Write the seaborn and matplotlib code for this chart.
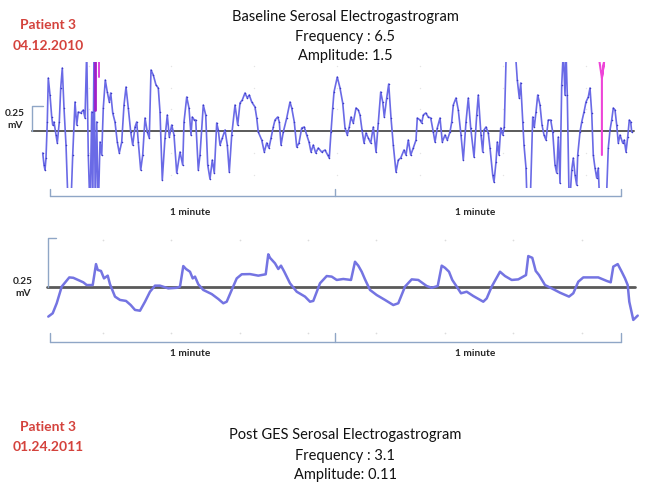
import matplotlib
matplotlib.use("Agg")
import matplotlib.pyplot as plt
import seaborn as sns
import pandas as pd

# ---------------- data (time in s, potential in mV) ----------------
top_t = [0.57, 0.84, 1.05, 1.26, 1.53, 1.74, 2.10, 2.46, 2.67, 2.94, 3.36, 3.63, 4.05, 4.35, 4.68,
         5.04, 5.46, 5.94, 6.45, 6.87, 7.35, 7.71, 8.04, 8.55, 9.09, 9.45, 9.81, 10.14, 10.5, 10.86,
         11.07, 11.34, 11.61, 11.91, 12.24, 12.6, 12.96, 13.29, 13.71, 14.13, 14.55, 14.85, 15.27,
         15.75, 16.23, 16.65, 17.16, 17.64, 18.06, 18.54, 19.05, 19.47, 19.95, 20.31, 20.64, 21.15,
         21.57, 22.05, 22.53, 22.95, 23.31, 23.79, 24.36, 24.84, 25.2, 25.68, 26.25, 26.73, 27.15,
         27.66, 28.14, 28.71, 29.4, 29.97, 30.24, 30.81, 31.29, 31.71, 31.98, 32.4, 32.7, 33.24,
         33.6, 34.29, 34.8, 35.22, 35.7, 36.18, 36.6, 37.11, 37.44, 37.8, 38.28, 38.85, 39.33,
         39.75, 40.26, 40.95, 41.52, 42.0, 42.48, 43.05, 43.53, 43.95, 44.46, 45.15, 45.51, 45.84,
         46.56, 47.1, 47.61, 48.09, 48.51, 48.99, 49.35, 49.92, 50.25, 50.61, 51.09, 51.81, 52.5,
         52.86, 53.4, 53.91, 54.39, 54.96, 55.5, 56.01, 56.49, 56.91, 57.39, 57.9, 58.44, 59.16,
         59.85, 60.42, 60.75, 61.11, 61.47, 61.74, 62.43, 63.0, 63.57, 64.05, 64.53, 64.95, 65.31,
         65.79, 66.36, 66.84, 67.2, 67.62, 68.04, 68.46, 68.94, 69.45, 69.99, 70.56, 71.04, 71.55,
         71.97, 72.3, 72.81, 73.23, 73.71, 74.19, 74.76, 75.24, 75.75, 76.44, 76.86, 77.34, 77.85,
         78.39, 78.96, 79.23, 79.8, 80.16, 80.49, 81.0, 81.54, 82.05, 82.59, 82.95, 83.43, 84.0,
         84.48, 85.05, 85.53, 86.1, 86.46, 86.79, 87.36, 87.84, 88.41, 88.89, 89.46, 89.94, 90.45,
         91.14, 91.71, 92.04, 92.61, 92.97, 93.24, 93.66, 94.14, 94.5, 95.07, 95.34, 95.76, 96.03,
         96.39, 96.75, 97.17, 97.5, 98.0, 99.6, 100.23, 100.65, 100.95, 101.37, 101.64, 102.06,
         102.33, 102.9, 103.47, 103.8, 104.16, 104.52, 105.0, 105.42, 105.84, 106.26, 106.74,
         107.25, 107.67, 108.15, 108.51, 108.84, 109.2, 109.56, 109.89, 110.25, 110.46, 110.73,
         111.15, 111.66, 111.99, 112.35, 112.71, 112.92, 113.4, 113.76, 114.24, 114.66, 115.14,
         115.5, 115.86, 116.19, 116.55, 116.91, 117.24, 117.6, 118.86, 119.34, 119.7, 120.06,
         120.39, 120.75, 121.11, 121.44, 121.8, 122.37, 122.7, 123.06, 123.42, 123.75, 124.05, 124.26]
top_mv = [-0.22, -0.34, -0.39, -0.27, 0.09, 0.53, 0.36, 0.14, 0.06, 0.09, -0.04, -0.12, 0.09, 0.43, 0.63,
          0.23, -0.14, -0.8, -0.8, -0.24, 0.29, 0.06, 0.19, 0.18, 0.21, 0.13, 0.8, -0.24, -0.8, 0.19,
          -0.8, 0.8, -0.8, 0.09, -0.8, -0.11, -0.24, 0.23, 0.51, 0.39, 0.29, 0.38, 0.18,
          0.09, -0.11, -0.22, -0.11, 0.26, 0.44, 0.23, -0.01, -0.14, 0.04, 0.09, -0.11, -0.39,
          -0.24, 0.13, -0.01, -0.07, 0.61, 0.56, 0.46, 0.43, 0.19, -0.49, -0.07, 0.16, -0.06,
          0.06, -0.04, -0.42, -0.21, -0.34, 0.09, 0.34, 0.23, -0.04, 0.14, 0.11, 0.11, -0.39,
          -0.24, 0.26, 0.16, -0.34, -0.48, -0.29, -0.42, 0.08, 0.01, -0.14, -0.07, 0.01, -0.14,
          -0.41, -0.04, 0.26, 0.06, 0.28, 0.31, 0.38, 0.33, 0.36, 0.29, 0.24, 0.13, -0.01,
          -0.09, -0.21, -0.12, -0.17, -0.07, 0.04, 0.11, 0.14, 0.09, -0.14, -0.01, 0.13, 0.29,
          0.23, 0.09, -0.16, -0.12, 0.03, 0.04, -0.04, -0.11, -0.21, -0.14, -0.22, -0.17, -0.21,
          -0.19, -0.24, -0.27, -0.01, 0.23, 0.39, 0.54, 0.43, 0.28, 0.03, -0.04, 0.04, 0.14,
          0.08, 0.23, 0.21, 0.16, 0.01, -0.12, -0.02, -0.07, -0.12, 0.04, -0.21, 0.08, 0.39,
          0.29, 0.14, 0.33, 0.47, 0.13, -0.14, -0.41, -0.29, -0.27, -0.19, -0.24, -0.09, -0.24,
          -0.17, -0.09, 0.13, 0.11, 0.08, 0.16, 0.18, 0.14, 0.13, -0.01, -0.11, 0.03, 0.13,
          -0.11, -0.04, -0.09, -0.01, 0.09, 0.26, 0.33, 0.21, -0.04, -0.29, 0.09, 0.33, 0.03,
          -0.26, 0.16, 0.36, -0.04, -0.21, 0.01, 0.04, -0.02, -0.17, -0.44, -0.51, -0.31, -0.11,
          -0.24, 0.03, -0.04, 0.04, 0.95, 0.95, 0.51, 0.33, 0.48, 0.09, -0.14, -0.37,
          -0.8, -0.8, 0.14, 0.04, 0.19, 0.36, 0.26, 0.06, -0.04, -0.09, 0.11,
          0.11, -0.01, -0.34, -0.42, -0.06, -0.52, 0.46, 0.8, 0.36, 0.8, 0.36,
          -0.8, -0.39, -0.27, -0.44, -0.54, -0.24, -0.01, 0.09, 0.19, 0.29, 0.34,
          0.43, 0.18, -0.24, -0.37, -0.47, -0.37, -0.8, -0.8, -0.17, 0.01, 0.11,
          0.23, 0.21, 0.06, -0.12, -0.04, -0.12, -0.09, -0.21, -0.06, 0.11, 0.09, -0.01]

# stimulus / artefact marks (magenta)
mark1_t = [11.45, 11.45]
mark1_mv = [0.8, 0.21]
mark2_t = [12.3, 12.3]
mark2_mv = [0.8, 0.54]
mark3_t = [117.5, 118.0, 118.45, 118.0, 118.0]
mark3_mv = [0.69, 0.53, 0.69, 0.53, -0.24]

bot_t = [1.74, 2.67, 3.51, 4.56, 6.15, 6.99, 9.09, 9.81, 11.07, 11.76, 12.12, 12.81, 13.44, 14.22,
         14.7, 15.75, 16.8, 18.06, 19.05, 19.95, 21.0, 22.05, 23.1, 24.15, 25.2, 26.94, 28.71, 29.4,
         30.09, 30.66, 31.5, 32.07, 32.55, 33.24, 34.29, 36.06, 37.44, 38.49, 39.21, 40.26, 41.31,
         42.36, 44.1, 45.84, 47.4, 47.94, 48.3, 49.35, 50.04, 50.61, 51.3, 52.5, 53.91, 55.65,
         56.7, 57.39, 58.8, 60.21, 61.26, 62.31, 63.69, 65.31, 66.15, 66.84, 67.56, 68.25, 69.3,
         70.71, 72.45, 74.19, 75.24, 76.65, 78.06, 79.44, 81.21, 82.26, 83.52, 84.36, 85.05,
         85.89, 86.58, 87.51, 88.41, 89.61, 90.99, 93.09, 93.81, 94.86, 96.6, 97.65, 99.06,
         100.44, 102.06, 102.54, 103.38, 104.1, 104.79, 106.05, 107.46, 109.2, 111.09, 111.99,
         113.04, 114.09, 117.24, 119.01, 119.85, 120.39, 121.32, 122.16, 122.85, 123.42, 123.75,
         124.59, 125.52]
bot_mv = [-0.151, -0.134, -0.083, 0.002, 0.049, 0.047, 0.024, 0.010, 0.010, 0.117, 0.087, 0.082,
          0.044, 0.058, 0.014, -0.049, -0.066, -0.071, -0.092, -0.117, -0.121, -0.075, -0.024,
          0.007, 0.007, -0.007, -0.004, 0.002, 0.107, 0.092, 0.078, 0.044, 0.053, 0.014, -0.015,
          -0.036, -0.061, -0.083, -0.075, -0.015, 0.044, 0.065, 0.066, 0.058, 0.065, 0.167, 0.149,
          0.121, 0.092, 0.109, 0.078, 0.019, -0.024, -0.049, -0.075, -0.071, 0.019, 0.056, 0.053,
          0.036, 0.041, 0.036, 0.129, 0.109, 0.078, 0.039, -0.015, -0.041, -0.066, -0.092, -0.083,
          0.002, 0.039, 0.036, 0.005, -0.004, 0.005, 0.109, 0.098, 0.078, 0.036, 0.002, -0.032,
          -0.024, -0.046, -0.075, -0.058, 0.002, 0.078, 0.056, 0.036, 0.039, 0.061, 0.158, 0.149,
          0.082, 0.061, 0.010, -0.007, -0.029, -0.049, -0.032, 0.027, 0.049, 0.049, 0.031, 0.024,
          0.104, 0.117, 0.078, 0.044, 0.010, -0.075, -0.168, -0.146]

minute_edges = [2.0, 62.0, 122.0]          # two 1-minute brackets
minute_labels = ["1 minute", "1 minute"]
scale_mv = 0.25                            # calibration bracket
top_grid_t = [10.3, 27.5, 44.9, 62.4, 79.8, 97.2, 114.7]
top_grid_mv = [0.65, 0.43, 0.22, -0.22, -0.44]
bot_grid_t = [13.2, 27.5, 42.0, 56.3, 70.6, 85.0, 99.3, 113.8]
bot_grid_mv = [0.24, -0.235]

# ---------------- figure ----------------
sns.set_style("white")
plt.rcParams["font.family"] = ["Lato", "DejaVu Sans"]
W, H = 649, 492
fig = plt.figure(figsize=(W / 100, H / 100), dpi=100)

XL = (-8.4, 127.89)


def px_ax(y0, y1):
    return fig.add_axes([0, 1 - y1 / H, 1, (y1 - y0) / H])


TRACE = "#6a6ae6"
DOT = "#3a3ac4"
BASE = "#5a5a5a"
BRK = "#8fa6c6"

# ---- top panel ----
ax1 = px_ax(62, 188)
ax1.set_xlim(*XL)
ax1.set_ylim(-0.57, 0.69)
ax1.axis("off")
for gt in top_grid_t:
    ax1.scatter([gt] * len(top_grid_mv), top_grid_mv, s=1.0, color="#e4e4e4",
                linewidths=0, zorder=0)
ax1.plot([-1.7, 124.7], [0, 0], color=BASE, lw=1.4, zorder=1)
df1 = pd.DataFrame({"t": top_t, "mv": top_mv})
sns.lineplot(data=df1, x="t", y="mv", ax=ax1, sort=False, estimator=None,
             color=TRACE, lw=1.2, zorder=2, marker="o", markersize=1.1,
             markeredgewidth=0, markerfacecolor=DOT)
ax1.plot(mark1_t, mark1_mv, color="#a020c8", lw=2.0, zorder=3)
ax1.plot(mark2_t, mark2_mv, color="#e040e0", lw=1.4, zorder=3)
ax1.plot(mark3_t, mark3_mv, color="#ee44d8", lw=1.5, zorder=3)
# calibration bracket
ax1.plot([0.63, -1.68, -1.68], [scale_mv, scale_mv, 0], color=BRK, lw=1.0, clip_on=False)
# minute bracket
ax1.plot([minute_edges[0], minute_edges[-1]], [-0.65, -0.65], color=BRK, lw=1.0, clip_on=False)
for e in minute_edges:
    ax1.plot([e, e], [-0.65, -0.58], color=BRK, lw=1.0, clip_on=False)
ax1.set_xlabel("")
ax1.set_ylabel("")

# ---- bottom panel ----
ax2 = px_ax(230, 345)
ax2.set_xlim(*XL)
ax2.set_ylim(-0.296, 0.291)
ax2.axis("off")
for gt in bot_grid_t:
    ax2.scatter([gt] * len(bot_grid_mv), bot_grid_mv, s=1.5, color="#dcdcdc",
                linewidths=0, zorder=0)
ax2.plot([1.5, 125.0], [0, 0], color=BASE, lw=2.0, zorder=1)
df2 = pd.DataFrame({"t": bot_t, "mv": bot_mv})
sns.lineplot(data=df2, x="t", y="mv", ax=ax2, sort=False, estimator=None,
             color="#7474e2", lw=1.8, zorder=2)
ax2.plot([3.36, 1.68, 1.68], [scale_mv, scale_mv, 0], color=BRK, lw=1.0, clip_on=False)
ax2.plot([minute_edges[0], minute_edges[-1]], [-0.28, -0.28], color=BRK, lw=1.0, clip_on=False)
for e in minute_edges:
    ax2.plot([e, e], [-0.28, -0.235], color=BRK, lw=1.0, clip_on=False)
ax2.set_xlabel("")
ax2.set_ylabel("")


# ---------------- text ----------------
def ftext(x, y, s, **kw):
    fig.text(x / W, 1 - y / H, s, ha="center", va="center", **kw)


RED = "#d4423c"
TXT = "#111111"
ftext(48, 25, "Patient 3", color=RED, fontsize=10, fontweight="bold")
ftext(48, 46, "04.12.2010", color=RED, fontsize=10, fontweight="bold")
ftext(345, 17, "Baseline Serosal Electrogastrogram", color=TXT, fontsize=10.5)
ftext(345, 37, "Frequency : 6.5", color=TXT, fontsize=10.5)
ftext(345, 56, "Amplitude: 1.5", color=TXT, fontsize=10.5)
ftext(15, 113, "0.25", fontsize=7.3, fontweight="bold")
ftext(15, 126, "mV", fontsize=7.3, fontweight="bold")
ftext(23, 281, "0.25", fontsize=7.3, fontweight="bold")
ftext(23, 294, "mV", fontsize=7.3, fontweight="bold")
for cx in (190, 475):
    ftext(cx, 213, minute_labels[0], fontsize=7.3, fontweight="bold")
    ftext(cx, 354, minute_labels[1], fontsize=7.3, fontweight="bold")
ftext(48, 427, "Patient 3", color=RED, fontsize=10, fontweight="bold")
ftext(48, 447, "01.24.2011", color=RED, fontsize=10, fontweight="bold")
ftext(345, 435, "Post GES Serosal Electrogastrogram", color=TXT, fontsize=10.5)
ftext(345, 456, "Frequency : 3.1", color=TXT, fontsize=10.5)
ftext(345, 475, "Amplitude: 0.11", color=TXT, fontsize=10.5)

fig.savefig("out.png", dpi=100)
